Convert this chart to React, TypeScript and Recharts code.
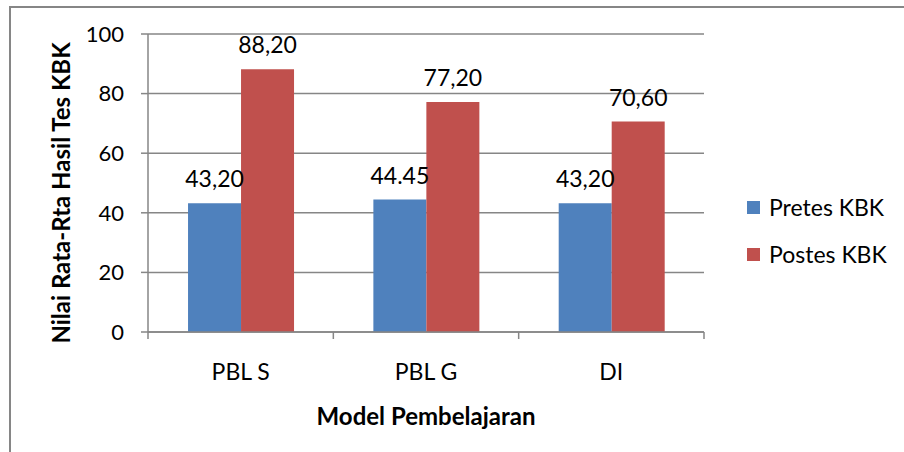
import React from "react";
import { BarChart, Bar, XAxis, YAxis, CartesianGrid, LabelList } from "recharts";

const categories = ["PBL S", "PBL G", "DI"];
const pretesValues = [43.2, 44.45, 43.2];
const postesValues = [88.2, 77.2, 70.6];
const pretesLabels = ["43,20", "44.45", "43,20"];
const postesLabels = ["88,20", "77,20", "70,60"];
const yTicks = [0, 20, 40, 60, 80, 100];
const seriesNames = ["Pretes KBK", "Postes KBK"];
const seriesColors = ["#4F81BD", "#C0504D"];

const data = categories.map((name, i) => ({
    name,
    pretes: pretesValues[i],
    postes: postesValues[i],
    pretesLabel: pretesLabels[i],
    postesLabel: postesLabels[i],
}));

const FONT = "Lato, 'Open Sans', sans-serif";
const GRID = "#868686";
const BAND = (704 - 148) / categories.length;

const CategoryTick = (props: any) => {
    const { x, payload, index } = props;
    return (
        <g>
            <line x1={x - BAND / 2} y1={332} x2={x - BAND / 2} y2={339} stroke={GRID} strokeWidth={1.5} />
            {index === categories.length - 1 && (
                <line x1={x + BAND / 2} y1={332} x2={x + BAND / 2} y2={339} stroke={GRID} strokeWidth={1.5} />
            )}
            <text x={x} y={380} textAnchor="middle" fontSize={23} fill="#000" fontFamily={FONT}>
                {payload.value}
            </text>
        </g>
    );
};

const LegendBox = () => (
    <div style={{ position: "absolute", left: 747, top: 194, fontFamily: FONT, fontSize: 23, color: "#000" }}>
        {seriesNames.map((name, i) => (
            <div key={name} style={{ display: "flex", alignItems: "center", height: 26, marginBottom: i === 0 ? 21 : 0 }}>
                <span style={{ display: "inline-block", width: 13, height: 13, background: seriesColors[i], marginRight: 9 }} />
                <span>{name}</span>
            </div>
        ))}
    </div>
);

const App: React.FC = () => {
    return (
        <div style={{ position: "absolute", left: 0, top: 0, width: 904, height: 452, background: "#fff", overflow: "hidden" }}>
            <div style={{ position: "absolute", left: 9, top: 6, width: 900, height: 450, borderLeft: `2px solid ${GRID}`, borderTop: `2px solid ${GRID}` }} />
            <BarChart
                width={904}
                height={452}
                data={data}
                margin={{ top: 34, right: 200, bottom: 0, left: 0 }}
                barCategoryGap="21.6%"
                barGap={0}
                style={{ position: "absolute", left: 0, top: 0 }}
            >
                <CartesianGrid vertical={false} stroke={GRID} strokeWidth={1.5} />
                <XAxis
                    dataKey="name"
                    height={120}
                    axisLine={{ stroke: GRID, strokeWidth: 1.5 }}
                    tickLine={false}
                    tick={<CategoryTick />}
                    interval={0}
                    label={() => (
                        <text x={426} y={425} textAnchor="middle" fontSize={24} fontWeight="bold" fontFamily={FONT} fill="#000">
                            Model Pembelajaran
                        </text>
                    )}
                />
                <YAxis
                    width={148}
                    domain={[0, 100]}
                    ticks={yTicks}
                    axisLine={{ stroke: GRID, strokeWidth: 1.5 }}
                    tickLine={{ stroke: GRID, strokeWidth: 1.5 }}
                    tickSize={7}
                    tickMargin={17}
                    tick={{ fontSize: 22, fill: "#000", fontFamily: FONT }}
                    label={() => (
                        <text x={60} y={193} transform="rotate(-90 60 193)" textAnchor="middle" dominantBaseline="central" fontSize={24} fontWeight="bold" fontFamily={FONT} fill="#000">
                            Nilai Rata-Rta Hasil Tes KBK
                        </text>
                    )}
                />
                <Bar dataKey="pretes" name={seriesNames[0]} fill={seriesColors[0]} isAnimationActive={false}>
                    <LabelList dataKey="pretesLabel" position="top" offset={16} fontSize={23} fill="#000" fontFamily={FONT} />
                </Bar>
                <Bar dataKey="postes" name={seriesNames[1]} fill={seriesColors[1]} isAnimationActive={false}>
                    <LabelList dataKey="postesLabel" position="top" offset={16} fontSize={23} fill="#000" fontFamily={FONT} />
                </Bar>
            </BarChart>
            <LegendBox />
        </div>
    );
};

export default App;
